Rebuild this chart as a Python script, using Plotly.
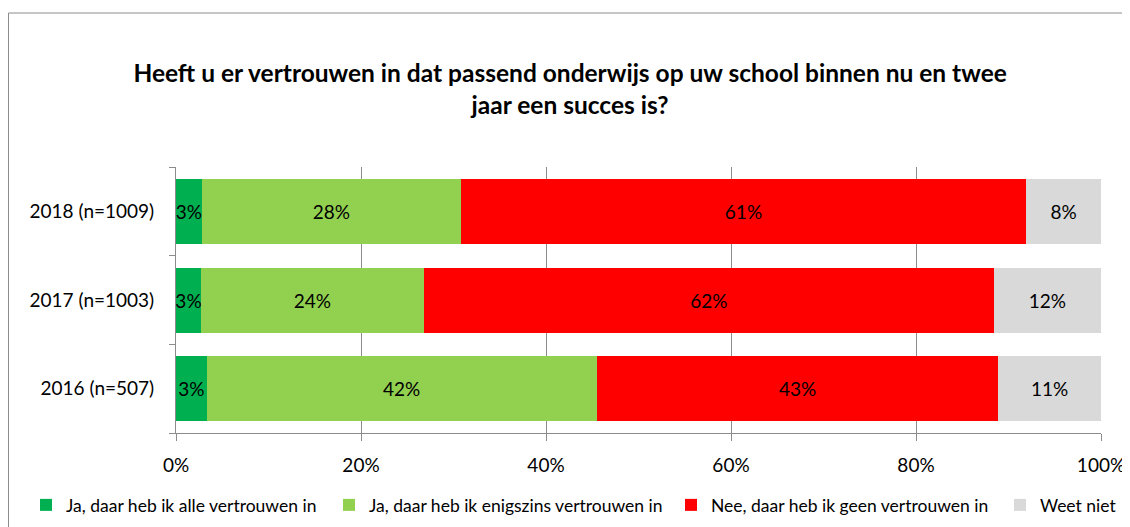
import plotly.graph_objects as go

# ----------------------------------------------------------------------
# Data
# ----------------------------------------------------------------------
years = ["2016 (n=507)", "2017 (n=1003)", "2018 (n=1009)"]
answers = [
    "Ja, daar heb ik alle vertrouwen in",
    "Ja, daar heb ik enigszins vertrouwen in",
    "Nee, daar heb ik geen vertrouwen in",
    "Weet niet",
]
alle_vertrouwen = [3.3, 2.7, 2.8]
enigszins = [42.2, 24.1, 28.0]
geen_vertrouwen = [43.4, 61.6, 61.1]
weet_niet = [11.1, 11.6, 8.1]
series = [alle_vertrouwen, enigszins, geen_vertrouwen, weet_niet]
x_ticks = [0, 20, 40, 60, 80, 100]
x_ticktext = ["0%", "20%", "40%", "60%", "80%", "100%"]

colors = ["#00B050", "#92D050", "#FF0000", "#D9D9D9"]
FONT = "Lato"
GREY = "#8C8C8C"

# ----------------------------------------------------------------------
# Geometry (page has an 8px body margin, so figure = window - 8)
# ----------------------------------------------------------------------
OFF = 8
W, H = 1130 - OFF, 527 - OFF
L, R, T, B = 176 - OFF, 29, 167 - OFF, 94
pw, ph = W - L - R, H - T - B


def px(x_page):
    return (x_page - OFF - L) / pw


def py(y_page):
    return (H - B - (y_page - OFF)) / ph


# legend text start positions in the reference (page pixels)
legend_text_x = [66, 369, 711, 1040]
legend_names = ["legend", "legend2", "legend3", "legend4"]

fig = go.Figure()
for name, vals, col, lg in zip(answers, series, colors, legend_names):
    fig.add_trace(go.Bar(
        y=years, x=vals, name=name, orientation="h", legend=lg,
        marker=dict(color=col, line=dict(width=0)),
        text=[f"{round(v):d}%" for v in vals],
        textposition="inside", insidetextanchor="middle",
        constraintext="none", textangle=0,
        textfont=dict(color="black", size=19, family=FONT),
        hoverinfo="skip",
    ))

# chart-area frame: only the top and left edges are inside the window
fig.add_shape(type="line", xref="paper", yref="paper",
              x0=px(8.5), x1=px(1131), y0=py(13), y1=py(13),
              line=dict(color=GREY, width=1), layer="below")
fig.add_shape(type="line", xref="paper", yref="paper",
              x0=px(8.5), x1=px(8.5), y0=py(13), y1=py(528),
              line=dict(color=GREY, width=1), layer="below")

legends = {}
for lg, tx in zip(legend_names, legend_text_x):
    legends[lg] = dict(
        orientation="h", x=px(tx - 40), xanchor="left",
        y=py(505), yanchor="middle",
        font=dict(family=FONT, size=17.5), itemwidth=30,
        bgcolor="rgba(0,0,0,0)",
    )

fig.update_layout(
    barmode="stack",
    bargap=0.267,
    width=W, height=H,
    margin=dict(l=L, r=R, t=T, b=B, autoexpand=False),
    paper_bgcolor="white", plot_bgcolor="white",
    font=dict(family=FONT, color="black", size=19),
    title=dict(
        text="Heeft u er vertrouwen in dat passend onderwijs op uw school binnen nu en twee<br>jaar een succes is?",
        x=0.501, xanchor="center", y=1 - (82 - OFF) / H, yanchor="middle",
        font=dict(family=FONT, size=24.5, color="black", weight="bold"),
    ),
    showlegend=True,
    **legends,
)
fig.update_xaxes(
    range=[0, 100], tickvals=x_ticks, ticktext=x_ticktext,
    showgrid=True, gridcolor=GREY, gridwidth=1,
    showline=True, linecolor=GREY, linewidth=1,
    ticks="outside", ticklen=7, tickcolor=GREY,
    zeroline=False, tickfont=dict(size=19), ticklabelstandoff=8,
    automargin=False,
)
fig.update_yaxes(
    categoryorder="array", categoryarray=years,
    showline=True, linecolor=GREY, linewidth=1,
    ticks="outside", ticklen=6, tickcolor=GREY, tickson="boundaries",
    tickfont=dict(size=19), ticklabelstandoff=17,
    automargin=False,
)

fig.write_html("out.html")
